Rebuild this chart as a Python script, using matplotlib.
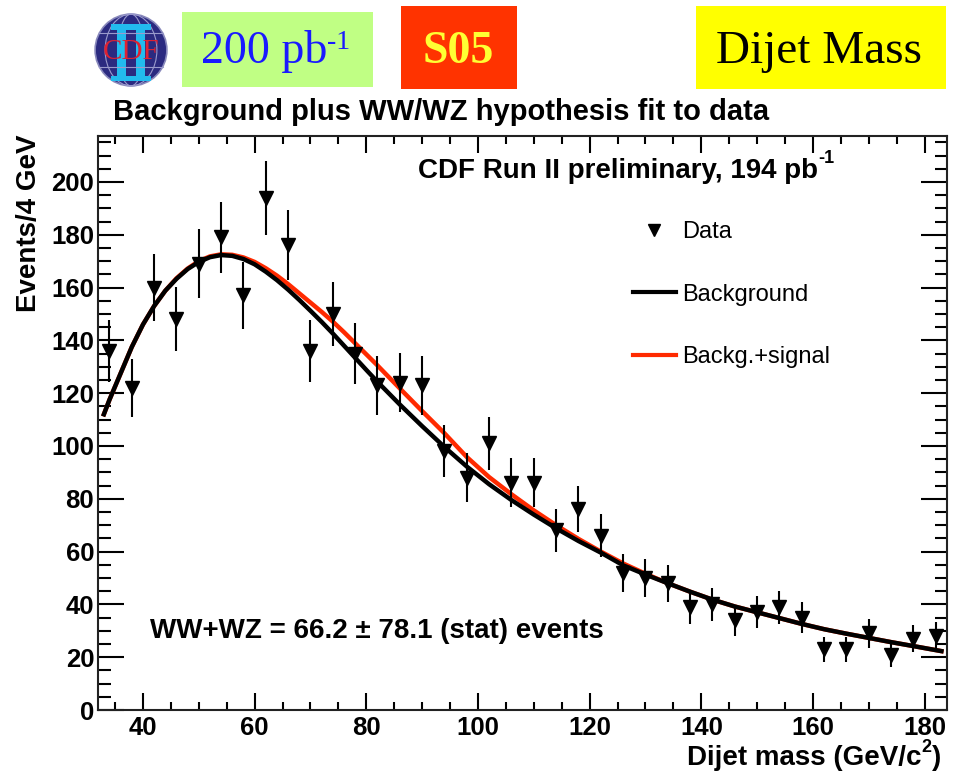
import matplotlib
matplotlib.use('Agg')
import matplotlib.pyplot as plt
from matplotlib.patches import Rectangle, Circle, Ellipse
from matplotlib.lines import Line2D
import numpy as np

# ---------------- data ----------------
mass_centers = [34, 38, 42, 46, 50, 54, 58, 62, 66, 70,
                74, 78, 82, 86, 90, 94, 98, 102, 106, 110,
                114, 118, 122, 126, 130, 134, 138, 142, 146, 150,
                154, 158, 162, 166, 170, 174, 178, 182]
events = [136, 122, 160, 148, 169, 179, 157, 194, 176, 136,
          150, 135, 123, 124, 123, 98, 88, 101, 86, 86,
          68, 76, 66, 52, 50, 48, 39, 40, 34, 37,
          39, 35, 23, 23, 29, 21, 27, 28]

curve_mass = [33, 34, 36, 38, 40, 42, 44, 46, 48, 50, 52, 54, 56, 58, 60,
              62, 64, 66, 68, 70, 72, 74, 76, 78, 80, 82, 86, 90, 94, 98,
              102, 106, 110, 114, 118, 122, 126, 130, 134, 138, 142, 146,
              150, 154, 158, 162, 166, 170, 174, 178, 183]
background = [112, 117.5, 127.5, 137.5, 146, 153, 158.8, 163.3, 167, 169.7,
              171.5, 172.3, 172, 170.8, 168.8, 166, 162.8, 159.2, 155.3, 151.2,
              147, 142.6, 138, 133.4, 128.8, 124.3, 115.7, 107.5, 99.6, 92.2,
              85.5, 79.5, 74, 68.8, 64, 59.6, 54.8, 51.3, 48, 44.8, 41.8, 39.2,
              37, 34.8, 32.6, 30.6, 28.9, 27.3, 25.7, 24.2, 22.3]
bkg_signal = [112, 117.5, 127.5, 137.5, 146, 153, 158.8, 163.5, 167.2, 170,
              171.8, 172.6, 172.4, 171.4, 169.7, 167.3, 164.5, 161.3, 157.8, 154.3,
              150.8, 147.1, 143.1, 138.9, 134.7, 130.5, 121.8, 113.2, 104.8, 95.8,
              88.2, 81.7, 75.6, 70, 64.8, 60, 55.5, 51.6, 48, 44.8, 41.8, 39.2,
              37, 34.8, 32.6, 30.6, 28.9, 27.3, 25.7, 24.2, 22.3]

x_ticks = [40, 60, 80, 100, 120, 140, 160, 180]
y_ticks = [0, 20, 40, 60, 80, 100, 120, 140, 160, 180, 200]

# ---------------- figure ----------------
W, H = 955, 773
fig = plt.figure(figsize=(W / 100, H / 100), dpi=100)
fig.patch.set_facecolor('white')


def fx(px):
    return px / W


def fy(py):
    return 1 - py / H


SANS = 'Liberation Sans'
SERIF = 'Liberation Serif'

ax = fig.add_axes([fx(98.3), fy(710), fx(947) - fx(98.3), (710 - 136) / H])
ax.set_xlim(32, 184)
ax.set_ylim(0, 217.4)

err = [np.sqrt(v) for v in events]
ax.plot(curve_mass, bkg_signal, color='#ff2a00', lw=3.2, zorder=2)
ax.plot(curve_mass, background, color='black', lw=3.2, zorder=3)
ax.errorbar(mass_centers, events, yerr=err, fmt='v', color='black', ms=10,
            elinewidth=1.5, capsize=0, zorder=4)

ax.set_xticks(x_ticks)
ax.set_xticks(list(range(35, 184, 5)), minor=True)
ax.set_yticks(y_ticks)
ax.set_yticks(list(range(0, 216, 5)), minor=True)
ax.set_xticklabels([str(v) for v in x_ticks], fontfamily=SANS, fontweight='bold', fontsize=18.5)
ax.set_yticklabels([str(v) for v in y_ticks], fontfamily=SANS, fontweight='bold', fontsize=18.5)
ax.tick_params(axis='x', which='major', direction='in', length=12, width=1.5,
               top=True, bottom=True, pad=4)
ax.tick_params(axis='x', which='minor', direction='in', length=5.5, width=1.5,
               top=True, bottom=True)
ax.tick_params(axis='y', which='major', direction='in', length=19, width=1.5,
               left=True, right=True, pad=3)
ax.tick_params(axis='y', which='minor', direction='in', length=9, width=1.5,
               left=True, right=True)
for s in ax.spines.values():
    s.set_linewidth(1.5)
    s.set_color('#222222')

# legend
handles = [Line2D([], [], marker='v', ls='none', color='black', ms=8),
           Line2D([], [], color='black', lw=3),
           Line2D([], [], color='#ff2a00', lw=3)]
leg = ax.legend(handles, ['Data', 'Background', 'Backg.+signal'],
                loc='upper left', bbox_to_anchor=(fx(633), fy(221)),
                bbox_transform=fig.transFigure, frameon=False,
                prop={'family': SANS, 'size': 17}, labelspacing=1.72,
                handlelength=1.8, handletextpad=0.3, borderpad=0, borderaxespad=0)

fig.canvas.draw()
renderer = fig.canvas.get_renderer()


def chain(x_px, base_py, parts):
    """parts: list of (text, size, raise_px, kwargs)"""
    x = x_px
    for txt, size, dy, kw in parts:
        t = fig.text(fx(x), fy(base_py - dy), txt, ha='left', va='baseline',
                     fontsize=size, **kw)
        bb = t.get_window_extent(renderer)
        x = bb.x1
    return x


bold = dict(fontfamily=SANS, fontweight='bold', color='black')

# title
chain(113, 120, [('Background plus WW/WZ hypothesis fit to data', 21, 0, bold)])
# CDF label
chain(418, 178, [('CDF Run II preliminary, 194 pb', 20, 0, bold),
                 ('-1', 13, 15, bold)])
# WW+WZ
chain(150, 638, [('WW+WZ = 66.2 \u00b1 78.1 (stat) events', 20, 0, bold)])
# x label
chain(687, 765, [('Dijet mass (GeV/c', 20, 0, bold), ('2', 13, 13, bold),
                 (')', 20, 0, bold)])
# y label
fig.text(fx(29), fy(135), 'Events/4 GeV', rotation=90, ha='center', va='top',
         fontsize=20, **bold)

# ---------------- header ----------------
fig.patches.append(Rectangle((fx(182), fy(87)), fx(373) - fx(182), (87 - 12) / H,
                             transform=fig.transFigure, facecolor='#c0ff84',
                             edgecolor='none', zorder=0))
fig.patches.append(Rectangle((fx(401), fy(89)), fx(517) - fx(401), (89 - 6) / H,
                             transform=fig.transFigure, facecolor='#ff3300',
                             edgecolor='none', zorder=0))
fig.patches.append(Rectangle((fx(696), fy(89)), fx(946) - fx(696), (89 - 6) / H,
                             transform=fig.transFigure, facecolor='#ffff00',
                             edgecolor='none', zorder=0))
chain(201, 63, [('200 pb', 33, 0, dict(fontfamily=SERIF, color='#1a1aff')),
                ('-1', 20, 14, dict(fontfamily=SERIF, color='#1a1aff'))])
fig.text(fx(458), fy(63), 'S05', ha='center', va='baseline', fontsize=33,
         fontfamily=SERIF, fontweight='bold', color='#ffff33')
fig.text(fx(819), fy(63), 'Dijet Mass', ha='center', va='baseline', fontsize=34,
         fontfamily=SERIF, color='black')

# logo (graphic)
lax = fig.add_axes([fx(94), fy(87), fx(168) - fx(94), (87 - 13) / H])
lax.set_xlim(-1, 1)
lax.set_ylim(-1, 1)
lax.axis('off')
lax.add_patch(Circle((0, 0), 0.97, facecolor='#2b2a80', edgecolor='#8888bb', lw=1.2))
for wdt in [0.7, 1.4]:
    lax.add_patch(Ellipse((0, 0), wdt, 1.94, facecolor='none', edgecolor='#9a9acc', lw=0.8))
for yy in [-0.45, 0.45]:
    hw = np.sqrt(0.97 ** 2 - yy ** 2)
    lax.plot([-hw, hw], [yy, yy], color='#9a9acc', lw=0.8)
cyan = '#22bbee'
lax.add_patch(Rectangle((-0.55, 0.55), 1.08, 0.15, facecolor=cyan, edgecolor='none'))
lax.add_patch(Rectangle((-0.55, -0.85), 1.08, 0.15, facecolor=cyan, edgecolor='none'))
lax.add_patch(Rectangle((-0.38, -0.8), 0.24, 1.45, facecolor=cyan, edgecolor='none'))
lax.add_patch(Rectangle((0.14, -0.8), 0.24, 1.45, facecolor=cyan, edgecolor='none'))
lax.text(0, -0.05, 'CDF', ha='center', va='center', fontsize=21, fontfamily=SERIF,
         color='#dd2233')

fig.savefig('out.png', dpi=100, facecolor='white')
